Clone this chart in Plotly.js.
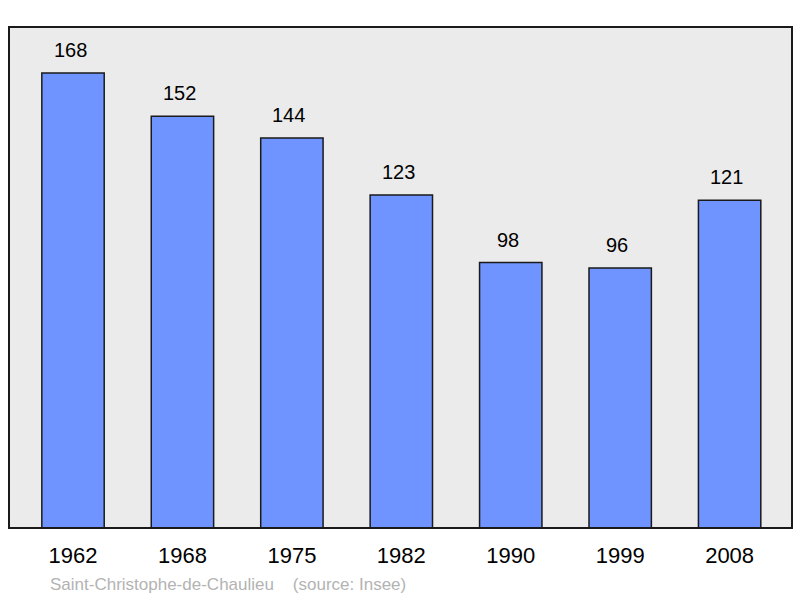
<!DOCTYPE html>
<html>
<head>
<meta charset="utf-8">
<script src="https://cdn.plot.ly/plotly-3.0.1.min.js"></script>
<style>
  html, body { margin: 0; padding: 0; background: #fff; }
  #chart { width: 800px; height: 598px; }
</style>
</head>
<body>
<div id="chart"></div>
<script>
var years = ["1962", "1968", "1975", "1982", "1990", "1999", "2008"];
var population = [168, 152, 144, 123, 98, 96, 121];
var townName = "Saint-Christophe-de-Chaulieu";
var sourceNote = "(source: Insee)";

window.onload = function() {
  var trace = {
    type: "bar",
    x: years,
    y: population,
    width: 0.57,
    marker: {
      color: "#7094ff",
      line: { color: "#1a1a1a", width: 1.5 }
    },
    hoverinfo: "none"
  };

  // value labels above the bars (x by category index, "1962" would be read as a number)
  var labels = years.map(function(yr, i) {
    return {
      x: i, y: population[i],
      xref: "x", yref: "y",
      xanchor: "center", yanchor: "bottom",
      xshift: -3,
      yshift: 10,
      showarrow: false,
      text: String(population[i]),
      font: { size: 20, color: "#000" }
    };
  });

  labels.push({
    xref: "paper", yref: "paper",
    x: 0.05, y: 0,
    xanchor: "left", yanchor: "top",
    yshift: -45,
    showarrow: false,
    text: townName + "&nbsp;&nbsp;&nbsp;&nbsp;" + sourceNote,
    font: { size: 17, color: "#b3b3b3" }
  });

  var layout = {
    width: 800,
    height: 598,
    margin: { l: 9, r: 8, t: 27, b: 70 },
    paper_bgcolor: "#ffffff",
    plot_bgcolor: "#ebebeb",
    showlegend: false,
    font: { family: "Liberation Sans, Arial, sans-serif", color: "#000" },
    xaxis: {
      type: "category",
      range: [-0.585, 6.57],
      showgrid: false,
      zeroline: false,
      showline: false,
      ticks: "",
      ticklabelstandoff: 12,
      tickfont: { size: 22, color: "#000" }
    },
    yaxis: {
      range: [0, 185],
      showgrid: false,
      zeroline: false,
      showline: false,
      showticklabels: false,
      ticks: ""
    },
    shapes: [{
      type: "rect",
      xref: "paper", yref: "paper",
      x0: 0, x1: 1, y0: 0, y1: 1,
      line: { color: "#1a1a1a", width: 2 },
      layer: "above"
    }],
    annotations: labels
  };

  Plotly.newPlot("chart", [trace], layout, { displayModeBar: false, staticPlot: true });
};
</script>
</body>
</html>
